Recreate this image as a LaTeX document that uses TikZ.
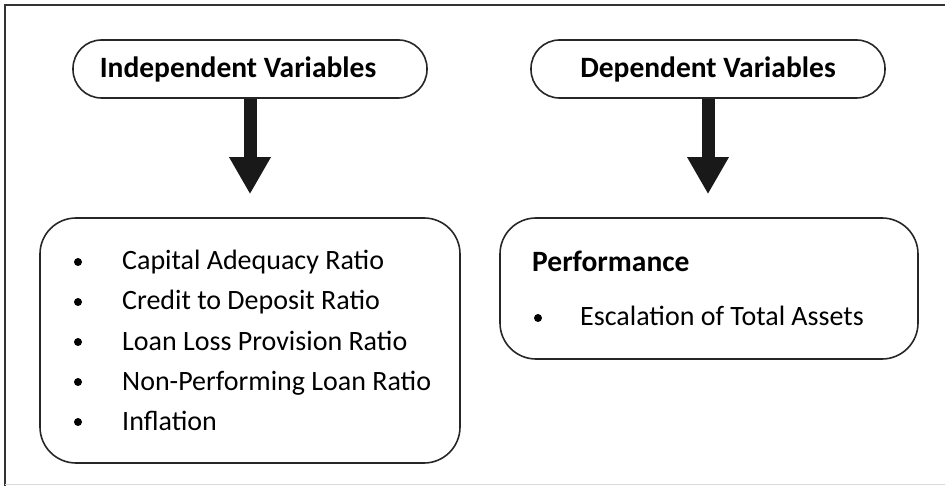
\documentclass[tikz,border=0pt]{standalone}
\usepackage{fontspec}
\setmainfont{Carlito}
\usetikzlibrary{arrows.meta,positioning}

\tikzset{
  header/.style={draw=black!85, line width=1.6pt, rounded corners=28.5pt,
    minimum width=354pt, minimum height=58pt,
    font=\fontsize{29.5}{34}\selectfont\bfseries},
  listbox/.style={draw=black!85, line width=1.6pt, rounded corners=36pt},
  bigarrow/.style={black!90, line width=13pt,
    -{Triangle[width=39pt,length=37pt]}, shorten >=23pt},
  itemtext/.style={anchor=base west, inner sep=0pt,
    font=\fontsize{28}{34}\selectfont},
}

\begin{document}
\begin{tikzpicture}[x=1pt,y=-1pt]
  \useasboundingbox (0,0) rectangle (945,486);
  % outer frame
  \draw[black!80, line width=1.5pt] (5,486) -- (5,5) -- (945,5);
  \draw[black!15, line width=1pt] (5,484.5) -- (945,484.5);

  % headers (left one has its text pushed a little to the left)
  \node[header] (indep) at (250,69) {Independent Variables\hspace*{24pt}};
  \node[header] (dep) at (708,69) {Dependent Variables};

  % content boxes
  \node[listbox, minimum width=420pt, minimum height=245pt] (indepbox) at (250,340.5) {};
  \node[listbox, minimum width=418pt, minimum height=141pt] (depbox) at (709,288.5) {};

  \draw[bigarrow] (indep.south) -- (indepbox.north);
  \draw[bigarrow] (dep.south) -- (dep.south |- depbox.north);

  % independent list
  \foreach \txt [count=\i] in {Capital Adequacy Ratio, Credit to Deposit Ratio,
      Loan Loss Provision Ratio, Non-Performing Loan Ratio, Inflation} {
    \fill (78,{222+40*\i}) circle (4pt);
    \node[itemtext] (item\i) at (122,{230+40*\i}) {\txt};
  }

  % dependent list
  \node[itemtext, font=\fontsize{29.5}{34}\selectfont\bfseries] (perf) at (532,272) {Performance};
  \fill (538,318) circle (4pt);
  \node[itemtext] (growth) at (580,326) {Escalation of Total Assets};
\end{tikzpicture}
\end{document}
